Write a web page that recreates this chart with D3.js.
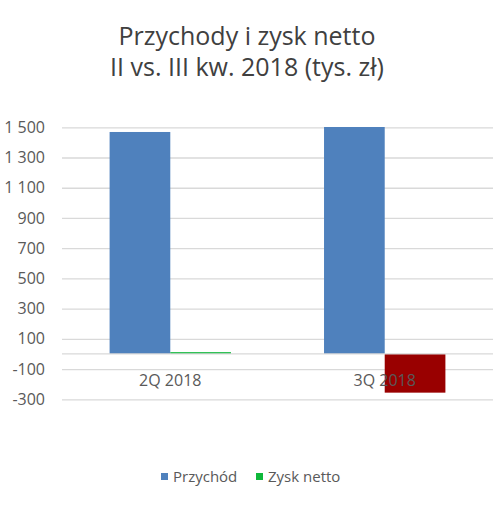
<!DOCTYPE html>
<html>
<head>
<meta charset="utf-8">
<script src="https://cdn.jsdelivr.net/npm/d3@7"></script>
<style>
  body { margin: 0; background: #fff; }
  svg text { font-family: "Open Sans", sans-serif; }
</style>
</head>
<body>
<div id="chart"></div>
<script>
const categories = ["2Q 2018", "3Q 2018"];
const seriesNames = ["Przychód", "Zysk netto"];
const przychod = [1469, 1502];
const zyskNetto = [12, -256];
const tickValues = [-300, -100, 100, 300, 500, 700, 900, 1100, 1300, 1500];
const titleLines = ["Przychody i zysk netto", "II vs. III kw. 2018 (tys. zł)"];

function main(){
    const width = 495, height = 508;
    const colors = {"Przychód": "#4F81BD", "Zysk netto": "#0FB83A"};

    const svg = d3.select("#chart").append("svg")
        .attr("width", width)
        .attr("height", height);

    // Title
    svg.append("g").selectAll("text")
        .data(titleLines)
        .join("text")
        .attr("x", 247)
        .attr("y", (d, i) => 45 + i * 31)
        .attr("text-anchor", "middle")
        .attr("fill", "#404040")
        .style("font-size", "25px")
        .text(d => d);

    const x = d3.scaleBand()
        .domain(categories)
        .range([62, 493])
        .paddingInner(0.434)
        .paddingOuter(0.222);

    const xSeries = d3.scaleBand()
        .domain(seriesNames)
        .range([0, x.bandwidth()]);

    const y = d3.scaleLinear()
        .domain([-300, 1500])
        .range([399.3, 127.3]);

    const locale = d3.formatLocale({decimal: ",", thousands: " ", grouping: [3], currency: ["", " zł"], minus: "-"});
    const fmt = locale.format(",d");

    // Gridlines + tick labels
    const yAxis = svg.append("g")
        .attr("transform", "translate(62,0)")
        .call(d3.axisLeft(y)
            .tickValues(tickValues)
            .tickSize(-(493 - 62))
            .tickPadding(17)
            .tickFormat(fmt));
    yAxis.select(".domain").remove();
    yAxis.selectAll(".tick line")
        .attr("stroke", "#D9D9D9")
        .attr("stroke-width", 1.3);
    yAxis.selectAll(".tick text")
        .attr("fill", "#595959")
        .style("font-size", "16px")
        .style("font-family", "Open Sans, sans-serif");

    const rows = categories.map((c, i) => ({
        category: c,
        values: [
            {name: "Przychód", value: przychod[i]},
            {name: "Zysk netto", value: zyskNetto[i]}
        ]
    }));

    // Bars
    const groups = svg.append("g")
        .selectAll("g")
        .data(rows)
        .join("g")
        .attr("transform", d => `translate(${x(d.category)},0)`);

    groups.selectAll("rect")
        .data(d => d.values)
        .join("rect")
        .attr("x", d => xSeries(d.name))
        .attr("width", xSeries.bandwidth())
        .attr("y", d => y(Math.max(0, d.value)))
        .attr("height", d => Math.abs(y(d.value) - y(0)))
        .attr("fill", d => d.value < 0 && d.name === "Zysk netto" ? "#990000" : colors[d.name]);

    // Zero axis line
    svg.append("line")
        .attr("x1", 62)
        .attr("x2", 493)
        .attr("y1", y(0))
        .attr("y2", y(0))
        .attr("stroke", "#D9D9D9")
        .attr("stroke-width", 1.3);

    // Category labels (drawn after bars, like Excel)
    svg.append("g").selectAll("text")
        .data(categories)
        .join("text")
        .attr("x", d => x(d) + x.bandwidth() / 2)
        .attr("y", 386)
        .attr("text-anchor", "middle")
        .attr("fill", "#595959")
        .style("font-size", "16px")
        .text(d => d);

    // Legend
    const legendX = [161, 256];
    const legend = svg.append("g").selectAll("g")
        .data(seriesNames)
        .join("g")
        .attr("transform", (d, i) => `translate(${legendX[i]},477)`);
    legend.append("rect")
        .attr("x", 0)
        .attr("y", -4)
        .attr("width", 7)
        .attr("height", 7)
        .attr("fill", d => colors[d]);
    legend.append("text")
        .attr("x", 12)
        .attr("y", 5)
        .attr("fill", "#595959")
        .style("font-size", "15px")
        .text(d => d);
}

main()
</script>
</body>
</html>
